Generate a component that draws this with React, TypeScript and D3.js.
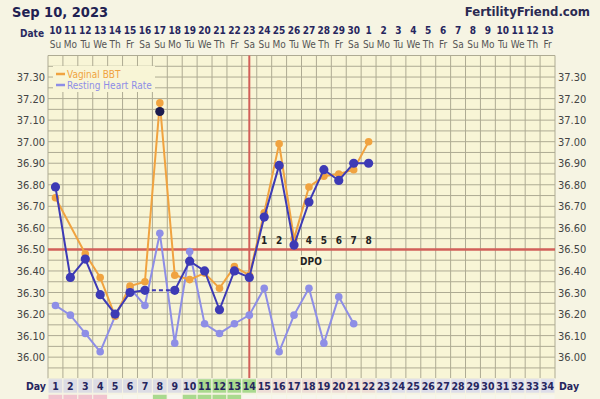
import { useEffect } from "react";
import * as d3 from "d3";

// cycle days and calendar
const days = d3.range(1, 35);
const dates = [10, 11, 12, 13, 14, 15, 16, 17, 18, 19, 20, 21, 22, 23, 24, 25, 26, 27, 28, 29, 30, 1, 2, 3, 4, 5, 6, 7, 8, 9, 10, 11, 12, 13];
const weekdays = ["Su", "Mo", "Tu", "We", "Th", "Fr", "Sa"];
const yTicks = [36.0, 36.1, 36.2, 36.3, 36.4, 36.5, 36.6, 36.7, 36.8, 36.9, 37.0, 37.1, 37.2, 37.3];

// temperatures (null = no reading)
const bbt = [36.79, 36.37, 36.455, 36.29, 36.2, 36.3, 36.31, 37.14, 36.31, 36.445, 36.4, 36.22, 36.4, 36.37, 36.65, 36.89, 36.52, 36.72, 36.87, 36.82, 36.9, 36.9];
const discarded = [8];
const vaginalBbt = [36.74, null, 36.48, 36.37, 36.19, 36.33, 36.35, 37.18, 36.38, 36.36, 36.39, 36.32, 36.42, 36.38, 36.67, 36.99, 36.55, 36.79, 36.84, 36.85, 36.87, 37.0];
// resting heart rate, as plotted against the temperature scale
const heartRate = [36.24, 36.195, 36.11, 36.025, 36.19, 36.32, 36.24, 36.575, 36.065, 36.49, 36.155, 36.11, 36.155, 36.195, 36.32, 36.025, 36.195, 36.32, 36.065, 36.28, 36.155];

const ovulationDay = 14;
const coverline = 36.5;
const dpo = [1, 2, 3, 4, 5, 6, 7, 8];

const dayRowColors = (d: number) => (d <= 10 ? "#dcdce4" : d <= 14 ? "#a9d98e" : d <= 22 ? "#eddcd6" : "#dddde9");
const secondRowColors = (d: number) => (d <= 4 ? "#f1c3cf" : d === 8 || (d >= 10 && d <= 13) ? "#a9d98e" : "#f7f6ee");

export default function App() {
  useEffect(() => {
    document.body.style.margin = "0";
  }, []);

  const W = 600;
  const H = 399;
  const left = 48;
  const right = 555;
  const x = d3.scaleBand<number>().domain(days).range([left, right]);
  const cx = (d: number) => (x(d) as number) + x.bandwidth() / 2;
  const y = d3.scaleLinear().domain([35.9, 37.4]).range([378.7, 55.5]);
  const gridTop = y(37.4);
  const gridBottom = y(35.9);

  const hLines = d3.range(0, 31).map((i) => 35.9 + i * 0.05);
  const font = "'DejaVu Sans Condensed', 'DejaVu Sans', sans-serif";

  const toPts = (arr: (number | null)[]) =>
    arr.map((v, i) => ({ day: i + 1, v })).filter((p) => p.v !== null) as { day: number; v: number }[];

  const line = d3
    .line<{ day: number; v: number }>()
    .x((p) => cx(p.day))
    .y((p) => y(p.v));

  const bbtPts = toPts(bbt);
  const bbtKept = bbtPts.filter((p) => !discarded.includes(p.day));
  const vagPts = toPts(vaginalBbt);
  const hrPts = toPts(heartRate);

  // split main line at discarded points, bridge with dashes
  const solidSegs: { day: number; v: number }[][] = [];
  const dashSegs: { day: number; v: number }[][] = [];
  let cur: { day: number; v: number }[] = [];
  bbtPts.forEach((p, i) => {
    if (discarded.includes(p.day)) {
      if (cur.length) solidSegs.push(cur);
      const prev = bbtPts[i - 1];
      const next = bbtPts[i + 1];
      if (prev && next) dashSegs.push([prev, next]);
      cur = [];
    } else cur.push(p);
  });
  if (cur.length) solidSegs.push(cur);

  const rowY = gridBottom;
  const rowH = 14.5;

  return (
    <svg width={W} height={H} style={{ display: "block" }} fontFamily={font}>
      <rect width={W} height={H} fill="#f6f4e3" />
      <text x={12} y={17} fontSize={14.5} fontWeight="bold" fill="#1f2152">Sep 10, 2023</text>
      <text x={590} y={16} fontSize={13} fontWeight="bold" fill="#2a2a52" textAnchor="end">FertilityFriend.com</text>

      <text x={44} y={37} fontSize={10} fontWeight="bold" fill="#2a2a60" textAnchor="end">Date</text>
      {days.map((d, i) => (
        <g key={"dt" + d}>
          <text x={cx(d)} y={34} fontSize={10} fontWeight="bold" fill="#26265e" textAnchor="middle">{dates[i]}</text>
          <text x={cx(d)} y={48} fontSize={10} fill="#555" textAnchor="middle">{weekdays[i % 7]}</text>
        </g>
      ))}

      <rect x={left} y={gridTop} width={right - left} height={gridBottom - gridTop} fill="#f8f5d6" />
      {hLines.map((v, i) => (
        <line key={"h" + i} x1={left} x2={right} y1={y(v)} y2={y(v)} stroke="#aeab93" strokeWidth={1} />
      ))}
      {d3.range(0, 35).map((i) => {
        const xx = left + i * x.bandwidth();
        return <line key={"v" + i} x1={xx} x2={xx} y1={gridTop} y2={gridBottom} stroke="#aeab93" strokeWidth={1} />;
      })}

      {yTicks.map((t) => (
        <g key={"t" + t}>
          <text x={45} y={y(t) + 4} fontSize={11} fill="#444" textAnchor="end">{t.toFixed(2)}</text>
          <text x={558} y={y(t) + 4} fontSize={11} fill="#444">{t.toFixed(2)}</text>
        </g>
      ))}

      {/* legend */}
      <rect x={53} y={66} width={102} height={26} fill="#f8f5d6" />
      <line x1={56} x2={65} y1={74} y2={74} stroke="#f0a340" strokeWidth={2.5} />
      <text x={67} y={77.5} fontSize={10} fill="#f0a340">Vaginal BBT</text>
      <line x1={56} x2={65} y1={85} y2={85} stroke="#8e8ee6" strokeWidth={2.5} />
      <text x={67} y={88.5} fontSize={10} fill="#8e8ee6">Resting Heart Rate</text>

      {/* ovulation and coverline */}
      <line x1={cx(ovulationDay)} x2={cx(ovulationDay)} y1={gridTop} y2={gridBottom} stroke="#d2605a" strokeWidth={2} />
      <line x1={left} x2={right} y1={y(coverline)} y2={y(coverline)} stroke="#d2605a" strokeWidth={2.5} />
      {dpo.map((n) => (
        <text key={"dpo" + n} x={cx(ovulationDay + n)} y={y(coverline) - 5} fontSize={10} fontWeight="bold" fill="#222" textAnchor="middle">{n}</text>
      ))}
      <rect x={cx(18) - 11} y={y(coverline) + 6} width={26} height={12} fill="#f8f5d6" />
      <text x={cx(18) + 2} y={y(coverline) + 16} fontSize={10} fontWeight="bold" fill="#222" textAnchor="middle">DPO</text>

      {/* resting heart rate */}
      <path d={line(hrPts) || ""} fill="none" stroke="#8e8ee6" strokeWidth={2} />
      {hrPts.map((p) => (
        <circle key={"hr" + p.day} cx={cx(p.day)} cy={y(p.v)} r={3.8} fill="#8e8ee6" />
      ))}

      {/* vaginal bbt */}
      <path d={line(vagPts) || ""} fill="none" stroke="#f0a340" strokeWidth={2} />
      {vagPts.map((p) => (
        <circle key={"vg" + p.day} cx={cx(p.day)} cy={y(p.v)} r={3.8} fill="#f0a340" />
      ))}

      {/* main bbt */}
      {dashSegs.map((s, i) => (
        <path key={"ds" + i} d={line(s) || ""} fill="none" stroke="#3d3ab5" strokeWidth={2} strokeDasharray="4,3" />
      ))}
      {solidSegs.map((s, i) => (
        <path key={"ss" + i} d={line(s) || ""} fill="none" stroke="#3d3ab5" strokeWidth={2} />
      ))}
      {bbtKept.map((p) => (
        <circle key={"bb" + p.day} cx={cx(p.day)} cy={y(p.v)} r={4.6} fill="#3d3ab5" />
      ))}
      {bbtPts
        .filter((p) => discarded.includes(p.day))
        .map((p) => (
          <circle key={"dc" + p.day} cx={cx(p.day)} cy={y(p.v)} r={4.6} fill="#1c1c4e" />
        ))}

      {/* day row */}
      {days.map((d) => (
        <g key={"dr" + d}>
          <rect x={x(d)} y={rowY} width={x.bandwidth()} height={rowH} fill={dayRowColors(d)} stroke="#f6f4e3" strokeWidth={1} />
          <text x={cx(d)} y={rowY + 11} fontSize={10.5} fontWeight="bold" fill="#26265e" textAnchor="middle">{d}</text>
          <rect x={x(d)} y={rowY + rowH + 1} width={x.bandwidth()} height={rowH} fill={secondRowColors(d)} stroke="#f6f4e3" strokeWidth={1} />
        </g>
      ))}
      <text x={46} y={rowY + 11} fontSize={10.5} fontWeight="bold" fill="#26265e" textAnchor="end">Day</text>
      <text x={559} y={rowY + 11} fontSize={10.5} fontWeight="bold" fill="#26265e">Day</text>
    </svg>
  );
}
